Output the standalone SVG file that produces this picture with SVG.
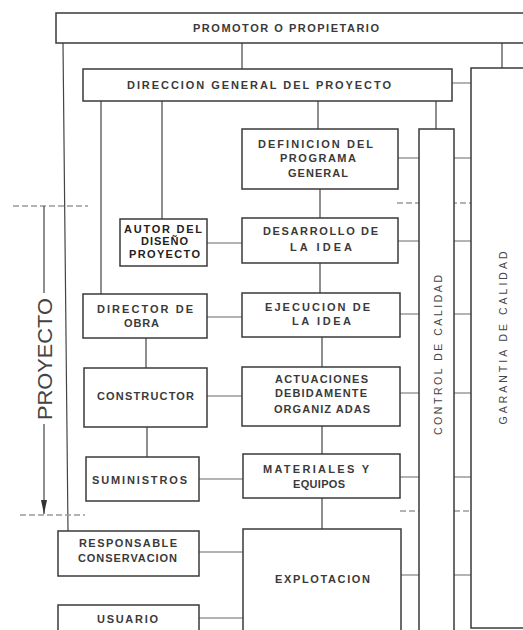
<svg xmlns="http://www.w3.org/2000/svg" width="523" height="630" viewBox="0 0 523 630">
<defs>
<style>
.box{fill:#fff;stroke:#3a3a3a;stroke-width:1.5}
.v{stroke:#444;stroke-width:1.2;fill:none}
.h{stroke:#9a9a9a;stroke-width:1.6;fill:none}
.d{stroke:#9a9a9a;stroke-width:1.5;stroke-dasharray:6 3;fill:none}
.t{font-family:"Liberation Sans",Arial,sans-serif;font-size:11px;font-weight:bold;fill:#3a3a3a;text-anchor:middle}
.ta{font-family:"Liberation Sans",Arial,sans-serif;font-size:11px;font-weight:bold;fill:#222;text-anchor:middle}
.tr{font-family:"Liberation Sans",Arial,sans-serif;font-size:10.5px;fill:#444;text-anchor:middle}
.tp{font-family:"Liberation Sans",Arial,sans-serif;font-size:21px;fill:#444;text-anchor:middle}
</style>
<marker id="ah" viewBox="0 0 14 6" refX="14" refY="3" markerWidth="14" markerHeight="6" markerUnits="userSpaceOnUse" orient="auto"><path d="M0,0 L14,3 L0,6 z" fill="#333"/></marker>
</defs>
<rect width="523" height="630" fill="#fff"/>

<g id="connectors">
<path class="v" d="M242,43 V69 M502,43 V68 M63,43 L68,531 M101,101 V294 M162,101 V219 M318,101 V129 M436,101 V129 M320,189 V218 M320,263 V293 M322,337 V367 M322,426 V454 M322,498 V529 M146,338 V368 M147,427 V457"/>
<path class="h" d="M452,83 H471 M398,158 H419 M454,158 H471 M207,243 H242 M398,241 H419 M454,241 H471 M207,317 H242 M400,314 H419 M454,314 H471 M207,396 H242 M400,393 H419 M454,393 H471 M199,479 H243 M400,477 H419 M454,477 H471 M199,552 H243 M401,575 H419 M454,575 H471 M199,618 H243"/>
<path class="d" d="M13,206 H88 M20,515 H85 M397,203 H472 M400,511 H473"/>
<path class="v" d="M44,293 V206 M44,424 V514" marker-end="url(#ah)" stroke="#555"/>
</g>

<g id="promotor"><rect class="box" x="56" y="13" width="480" height="30"/><text class="t" x="286" y="32" textLength="186" lengthAdjust="spacing">PROMOTOR O PROPIETARIO</text></g>
<g id="garantia"><rect class="box" x="471" y="68" width="70" height="560"/><text class="tr" transform="translate(507,338) rotate(-90)" textLength="173" lengthAdjust="spacing">GARANTIA DE CALIDAD</text></g>
<g id="direccion"><rect class="box" x="83" y="69" width="369" height="32"/><text class="t" x="259" y="89" textLength="264" lengthAdjust="spacing">DIRECCION GENERAL DEL PROYECTO</text></g>
<g id="control"><rect class="box" x="419" y="129" width="35" height="520"/><text class="tr" transform="translate(442,355) rotate(-90)" textLength="160" lengthAdjust="spacing">CONTROL DE CALIDAD</text></g>
<g id="definicion"><rect class="box" x="242" y="129" width="156" height="60"/>
<text class="t" x="315.5" y="148" textLength="115" lengthAdjust="spacing">DEFINICION DEL</text>
<text class="t" x="318" y="162" textLength="76" lengthAdjust="spacing">PROGRAMA</text>
<text class="t" x="318" y="177" textLength="60" lengthAdjust="spacing">GENERAL</text></g>
<g id="autor"><rect class="box" x="120" y="219" width="87" height="47"/>
<text class="ta" x="163" y="233" textLength="78" lengthAdjust="spacing">AUTOR DEL</text>
<text class="ta" x="164.5" y="245" textLength="47" lengthAdjust="spacing">DISEÑO</text>
<text class="ta" x="164.5" y="258" textLength="71" lengthAdjust="spacing">PROYECTO</text></g>
<g id="desarrollo"><rect class="box" x="242" y="218" width="156" height="45"/>
<text class="t" x="320.5" y="235" textLength="115" lengthAdjust="spacing">DESARROLLO DE</text>
<text class="t" x="321" y="251" textLength="62" lengthAdjust="spacing">LA IDEA</text></g>
<g id="director"><rect class="box" x="83" y="294" width="124" height="44"/>
<text class="t" x="145" y="313" textLength="96" lengthAdjust="spacing">DIRECTOR DE</text>
<text class="t" x="141.5" y="327" textLength="35" lengthAdjust="spacing">OBRA</text></g>
<g id="ejecucion"><rect class="box" x="242" y="293" width="158" height="44"/>
<text class="t" x="317.5" y="311" textLength="105" lengthAdjust="spacing">EJECUCION DE</text>
<text class="t" x="321.5" y="325" textLength="59" lengthAdjust="spacing">LA IDEA</text></g>
<g id="constructor"><rect class="box" x="84" y="368" width="123" height="59"/>
<text class="t" x="145.5" y="400" textLength="97" lengthAdjust="spacing">CONSTRUCTOR</text></g>
<g id="actuaciones"><rect class="box" x="242" y="367" width="158" height="59"/>
<text class="t" x="321.5" y="383" textLength="93" lengthAdjust="spacing">ACTUACIONES</text>
<text class="t" x="321" y="397" textLength="92" lengthAdjust="spacing">DEBIDAMENTE</text>
<text class="t" x="322" y="413" textLength="96" lengthAdjust="spacing">ORGANIZ ADAS</text></g>
<g id="suministros"><rect class="box" x="86" y="457" width="113" height="44"/>
<text class="t" x="139.5" y="484" textLength="95" lengthAdjust="spacing">SUMINISTROS</text></g>
<g id="materiales"><rect class="box" x="243" y="454" width="157" height="44"/>
<text class="t" x="316" y="473" textLength="106" lengthAdjust="spacing">MATERIALES Y</text>
<text class="t" x="319" y="488" textLength="52" lengthAdjust="spacing">EQUIPOS</text></g>
<g id="responsable"><rect class="box" x="58" y="531" width="141" height="45"/>
<text class="t" x="128" y="547" textLength="98" lengthAdjust="spacing">RESPONSABLE</text>
<text class="t" x="127.5" y="562" textLength="99" lengthAdjust="spacing">CONSERVACION</text></g>
<g id="explotacion"><rect class="box" x="243" y="529" width="158" height="120"/>
<text class="t" x="322.5" y="583" textLength="95" lengthAdjust="spacing">EXPLOTACION</text></g>
<g id="usuario"><rect class="box" x="58" y="605" width="141" height="40"/>
<text class="t" x="127.5" y="623" textLength="61" lengthAdjust="spacing">USUARIO</text></g>
<g id="proyecto"><text class="tp" transform="translate(52,359) rotate(-90)" textLength="122" lengthAdjust="spacingAndGlyphs">PROYECTO</text></g>
</svg>
